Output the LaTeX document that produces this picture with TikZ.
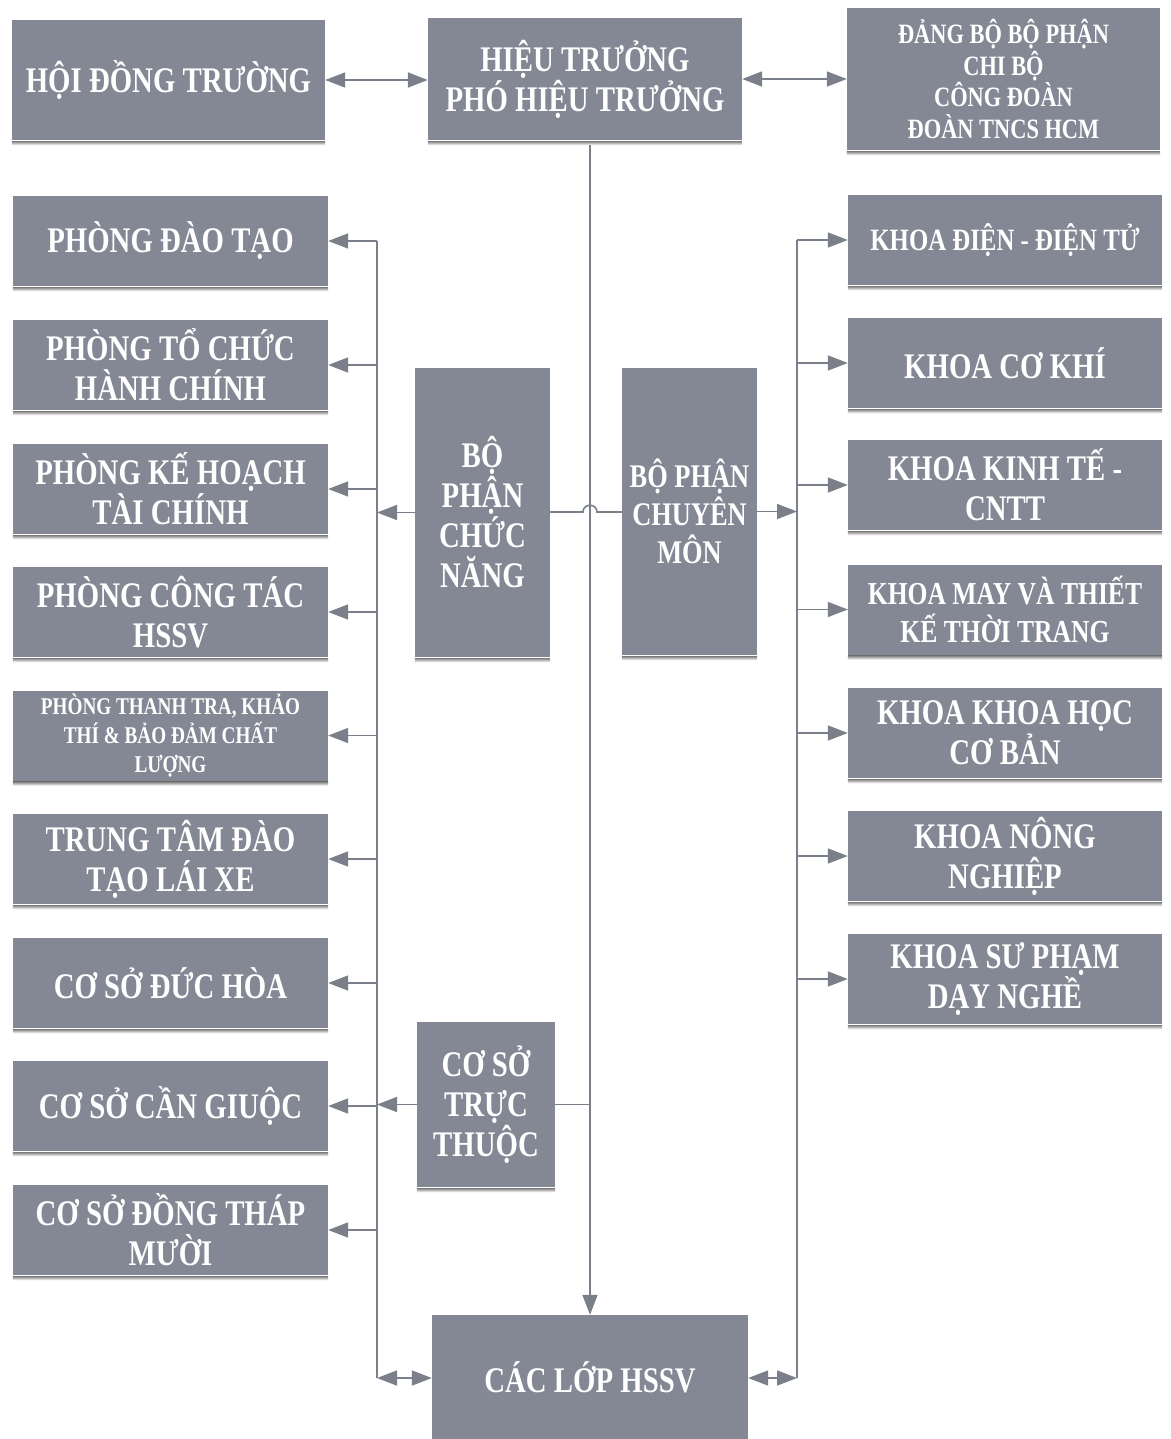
\documentclass[tikz,border=0pt]{standalone}
\usepackage{fontspec}
\setmainfont{Liberation Serif}[FakeStretch=0.8]
\usetikzlibrary{arrows.meta}
\definecolor{boxgray}{RGB}{131,136,148}
\definecolor{linegray}{RGB}{122,127,137}
\definecolor{shade}{RGB}{214,216,222}
\begin{document}
\begin{tikzpicture}[x=1pt,y=-1pt,
  box/.style={fill=boxgray, text=white, align=center, inner sep=0pt,
    font=\bfseries\fontsize{36}{40}\selectfont},
  mid/.style={font=\bfseries\fontsize{28}{31.5}\selectfont},
  small/.style={font=\bfseries\fontsize{24}{29}\selectfont},
  lcol/.style={box, minimum width=315pt, minimum height=90pt},
  rcol/.style={box, minimum width=314pt, minimum height=90pt},
  ln/.style={draw=linegray, line width=1.6pt},
  arr/.style={ln, -{Triangle[length=20pt,width=15pt]}},
  darr/.style={ln, {Triangle[length=20pt,width=15pt]}-{Triangle[length=20pt,width=15pt]}}]
\useasboundingbox (0,0) rectangle (1170,1439);
\fill[white] (0,0) rectangle (1170,1439);

% top row
\node[box, minimum width=313pt, minimum height=120pt] (hdt) at (168.5,80) {HỘI ĐỒNG TRƯỜNG};
\node[box, minimum width=314pt, minimum height=122pt] (ht) at (585,79) {HIỆU TRƯỞNG\\PHÓ HIỆU TRƯỞNG};
\node[box, mid, minimum width=313pt, minimum height=142pt] (db) at (1003.5,79) {ĐẢNG BỘ BỘ PHẬN\\CHI BỘ\\CÔNG ĐOÀN\\ĐOÀN TNCS HCM};

% left column
\node[lcol] (l1) at (170.5,241) {PHÒNG ĐÀO TẠO};
\node[lcol] (l2) at (170.5,365) {PHÒNG TỔ CHỨC\\HÀNH CHÍNH};
\node[lcol] (l3) at (170.5,489) {PHÒNG KẾ HOẠCH\\TÀI CHÍNH};
\node[lcol] (l4) at (170.5,612) {PHÒNG CÔNG TÁC\\HSSV};
\node[lcol, small] (l5) at (170.5,735.5) {PHÒNG THANH TRA, KHẢO\\THÍ \& BẢO ĐẢM CHẤT\\LƯỢNG};
\node[lcol] (l6) at (170.5,859) {TRUNG TÂM ĐÀO\\TẠO LÁI XE};
\node[lcol] (l7) at (170.5,983) {CƠ SỞ ĐỨC HÒA};
\node[lcol] (l8) at (170.5,1106) {CƠ SỞ CẦN GIUỘC};
\node[lcol] (l9) at (170.5,1230) {CƠ SỞ ĐỒNG THÁP\\MƯỜI};

% right column
\node[rcol, font=\bfseries\fontsize{31}{34}\selectfont] (r1) at (1005,240) {KHOA ĐIỆN - ĐIỆN TỬ};
\node[rcol] (r2) at (1005,363) {KHOA CƠ KHÍ};
\node[rcol] (r3) at (1005,485) {KHOA KINH TẾ -\\CNTT};
\node[rcol, font=\bfseries\fontsize{32}{38}\selectfont] (r4) at (1005,609.5) {KHOA MAY VÀ THIẾT\\KẾ THỜI TRANG};
\node[rcol] (r5) at (1005,733) {KHOA KHOA HỌC\\CƠ BẢN};
\node[rcol] (r6) at (1005,856) {KHOA NÔNG\\NGHIỆP};
\node[rcol] (r7) at (1005,979) {KHOA SƯ PHẠM\\DẠY NGHỀ};

% middle boxes
\node[box, minimum width=135pt, minimum height=289pt] (bpcn) at (482.5,512.5) {BỘ\\PHẬN\\CHỨC\\NĂNG};
\node[box, font=\bfseries\fontsize{33}{38}\selectfont, minimum width=135pt, minimum height=287pt] (bpcm) at (689.5,511.5) {BỘ PHẬN\\CHUYÊN\\MÔN};
\node[box, minimum width=138pt, minimum height=165pt] (cstt) at (486,1104.5) {CƠ SỞ\\TRỰC\\THUỘC};
\node[box, minimum width=316pt, minimum height=124pt] (lop) at (590,1377) {CÁC LỚP HSSV};

% faint shading strip under each box
\foreach \n in {hdt,ht,db,l1,l2,l3,l4,l5,l6,l7,l8,l9,r1,r2,r3,r4,r5,r6,r7,bpcn,bpcm,cstt}
  \fill[shade] ([yshift=-1pt]\n.south west) rectangle ([yshift=-5pt]\n.south east);

% buses
\coordinate (lbtop) at (377,241);
\coordinate (lbbot) at (377,1378);
\coordinate (rbtop) at (797,240);
\coordinate (rbbot) at (797,1378);
\coordinate (hopa) at (583,512);
\coordinate (hopb) at (597,512);

% top arrows
\draw[darr] (hdt.east) -- (ht.west |- hdt.east);
\draw[darr] (ht.east) -- (db.west |- ht.east);

% central line
\draw[arr] ([yshift=-5pt]ht.south -| lop.north) -- (lop.north);

% left bus
\draw[ln] (lbtop) -- (lbbot);
\foreach \n in {l1,l2,l3,l4,l5,l6,l7,l8,l9}
  \draw[arr] (lbtop |- \n.east) -- (\n.east);
\draw[darr] (lbbot) -- (lop.west |- lbbot);

% right bus
\draw[ln] (rbtop) -- (rbbot);
\foreach \n in {r1,r2,r3,r4,r5,r6,r7}
  \draw[arr] (rbtop |- \n.west) -- (\n.west);
\draw[darr] (rbbot) -- (lop.east |- rbbot);

% middle connections
\draw[arr] (bpcn.west) -- (lbtop |- bpcn.west);
\draw[arr] (bpcm.east) -- (rbtop |- bpcm.east);
\draw[ln] (bpcn.east |- hopa) -- (hopa) .. controls (583,503) and (597,503) .. (hopb) -- (bpcm.west |- hopb);
\draw[arr] (cstt.west) -- (lbtop |- cstt.west);
\draw[ln] (cstt.east) -- (cstt.east -| lop.north);
\end{tikzpicture}
\end{document}
